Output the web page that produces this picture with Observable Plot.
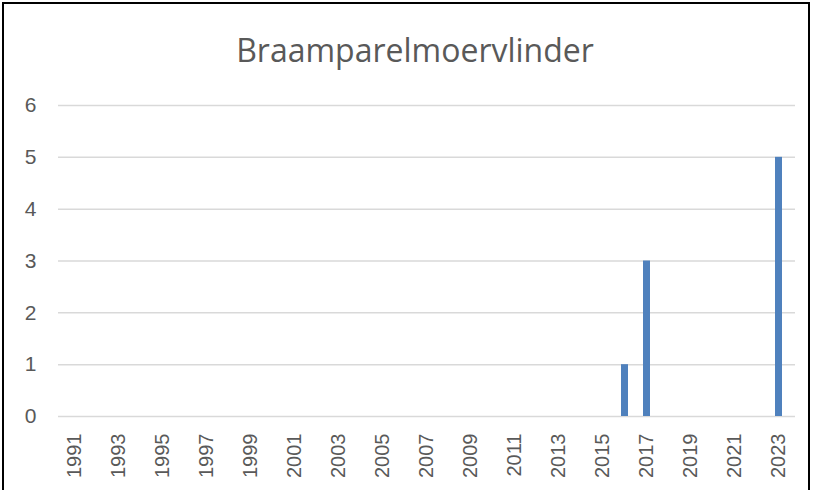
<!DOCTYPE html>
<html>
<head>
<meta charset="utf-8">
<script src="https://cdn.jsdelivr.net/npm/d3@7"></script>
<script src="https://cdn.jsdelivr.net/npm/@observablehq/plot@0.6"></script>
<style>
  html, body { margin: 0; padding: 0; background: #fff; }
  #frame {
    position: absolute; left: 2px; top: 2px; width: 808px; height: 500px;
    border: 2px solid #000; box-sizing: border-box; background: #fff;
  }
  #title {
    position: absolute; left: 17px; top: 0; width: 796px; height: 88px;
    text-align: center; font-family: "Open Sans", sans-serif; font-weight: 400;
    font-size: 32px; color: #595959; line-height: 99px; white-space: nowrap;
  }
  #chart { position: absolute; left: 0; top: 88px; }
</style>
</head>
<body>
<div id="frame"></div>
<div id="title">Braamparelmoervlinder</div>
<div id="chart"></div>
<script>
const years = [1991,1992,1993,1994,1995,1996,1997,1998,1999,2000,2001,2002,2003,2004,2005,2006,2007,2008,2009,2010,2011,2012,2013,2014,2015,2016,2017,2018,2019,2020,2021,2022,2023];
const counts = [0,0,0,0,0,0,0,0,0,0,0,0,0,0,0,0,0,0,0,0,0,0,0,0,0,1,3,0,0,0,0,0,5];
const yTicks = [0,1,2,3,4,5,6];

const data = years.map((y, i) => ({year: String(y), count: counts[i]}));

const chart = Plot.plot({
  width: 813,
  height: 402,
  marginLeft: 58,
  marginRight: 18,
  marginTop: 17,
  marginBottom: 74,
  style: {fontFamily: "'Liberation Sans', Arial, sans-serif", fontSize: "20px", color: "#595959", background: "transparent"},
  x: {domain: years.map(String), paddingInner: 0.69, paddingOuter: 0.345, label: null},
  y: {domain: [0, 6], label: null},
  marks: [
    Plot.gridY(yTicks, {stroke: "#d9d9d9", strokeOpacity: 1, strokeWidth: 1.5}),
    Plot.barY(data, {x: "year", y: "count", fill: "#4f81bd"}),
    Plot.axisY(yTicks, {tickSize: 0, tickPadding: 22, label: null, fill: "#595959", fontSize: 21, tickFormat: d => String(d)}),
    Plot.axisX({tickSize: 0, tickPadding: 17, tickRotate: -90, label: null, fill: "#595959", fontSize: 20,
      tickFormat: d => (+d - 1991) % 2 === 0 ? d : ""})
  ]
});
document.getElementById("chart").appendChild(chart);
</script>
</body>
</html>
